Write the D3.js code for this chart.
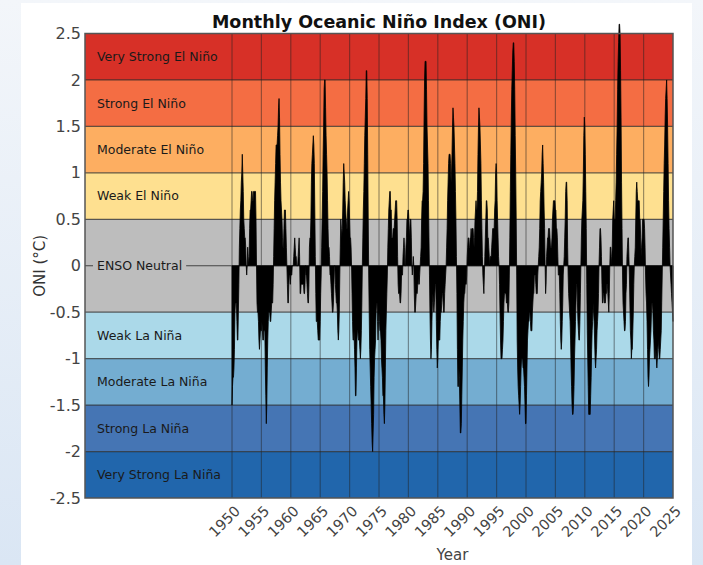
<!DOCTYPE html>
<html>
<head>
<meta charset="utf-8">
<script src="https://cdn.jsdelivr.net/npm/d3@7"></script>
<style>
    html, body { margin: 0; padding: 0; }
    body {
        width: 703px; height: 565px; overflow: hidden;
        background: linear-gradient(#f3f6fa, #dae6f4);
        font-family: "DejaVu Sans", sans-serif;
    }
</style>
</head>
<body>
<div id="chart"></div>
<script>
// ONI (deg C), one value per running 3-month season, starting DJF 1950
let startYear = 1950;
let oniValues = [
    -1.5, -1.3, -1.2, -1.2, -1.1, -0.9, -0.5, -0.4, -0.4, -0.4, -0.6, -0.8, // 1950
    -0.8, -0.5, -0.2, 0.2, 0.4, 0.6, 0.7, 0.9, 1.0, 1.2, 1.0, 0.8,          // 1951
    0.5, 0.4, 0.3, 0.3, 0.2, 0.0, -0.1, 0.0, 0.2, 0.1, 0.0, 0.1,            // 1952
    0.4, 0.6, 0.6, 0.7, 0.8, 0.8, 0.7, 0.7, 0.8, 0.8, 0.8, 0.8,             // 1953
    0.8, 0.5, 0.0, -0.4, -0.5, -0.5, -0.6, -0.8, -0.9, -0.8, -0.7, -0.7,    // 1954
    -0.7, -0.6, -0.7, -0.8, -0.8, -0.7, -0.7, -0.7, -1.1, -1.4, -1.7, -1.5, // 1955
    -1.1, -0.8, -0.6, -0.5, -0.5, -0.5, -0.6, -0.6, -0.5, -0.4, -0.4, -0.4, // 1956
    -0.2, 0.1, 0.4, 0.7, 0.9, 1.1, 1.3, 1.3, 1.3, 1.4, 1.5, 1.7,            // 1957
    1.8, 1.6, 1.2, 0.9, 0.7, 0.6, 0.5, 0.3, 0.2, 0.2, 0.4, 0.6,             // 1958
    0.6, 0.6, 0.4, 0.2, 0.0, -0.2, -0.4, -0.4, -0.2, -0.1, -0.1, -0.2,      // 1959
    -0.1, -0.1, -0.1, 0.0, 0.0, 0.0, 0.1, 0.2, 0.3, 0.2, 0.1, 0.1,          // 1960
    0.0, 0.0, 0.0, 0.1, 0.2, 0.3, 0.1, -0.3, -0.3, -0.2, -0.2, -0.2,        // 1961
    -0.2, -0.2, -0.2, -0.3, -0.3, -0.2, 0.0, -0.1, -0.1, -0.2, -0.3, -0.4,  // 1962
    -0.4, -0.2, 0.2, 0.3, 0.3, 0.5, 0.9, 1.1, 1.2, 1.3, 1.4, 1.3,           // 1963
    1.1, 0.6, 0.1, -0.3, -0.6, -0.6, -0.6, -0.7, -0.8, -0.8, -0.8, -0.8,    // 1964
    -0.6, -0.3, -0.1, 0.2, 0.5, 0.8, 1.2, 1.5, 1.9, 2.0, 2.0, 1.7,          // 1965
    1.4, 1.2, 1.0, 0.7, 0.4, 0.2, 0.2, 0.1, -0.1, -0.1, -0.2, -0.3,         // 1966
    -0.4, -0.5, -0.5, -0.4, -0.2, 0.0, 0.0, -0.2, -0.3, -0.4, -0.4, -0.5,   // 1967
    -0.7, -0.8, -0.7, -0.5, -0.1, 0.2, 0.5, 0.4, 0.3, 0.4, 0.6, 0.9,        // 1968
    1.1, 1.0, 0.9, 0.7, 0.6, 0.5, 0.4, 0.4, 0.6, 0.7, 0.8, 0.7,             // 1969
    0.5, 0.3, 0.3, 0.2, 0.0, -0.3, -0.6, -0.8, -0.8, -0.7, -0.9, -1.1,      // 1970
    -1.4, -1.4, -1.1, -0.8, -0.7, -0.7, -0.8, -0.8, -0.8, -0.9, -1.0, -0.9, // 1971
    -0.7, -0.4, 0.0, 0.3, 0.6, 0.8, 1.1, 1.4, 1.6, 1.8, 2.1, 2.1,           // 1972
    1.8, 1.2, 0.5, -0.1, -0.5, -0.9, -1.1, -1.3, -1.5, -1.7, -1.9, -2.0,    // 1973
    -1.8, -1.6, -1.2, -1.0, -0.9, -0.8, -0.5, -0.4, -0.4, -0.6, -0.8, -0.6, // 1974
    -0.5, -0.6, -0.7, -0.7, -0.8, -1.0, -1.1, -1.2, -1.4, -1.4, -1.6, -1.7, // 1975
    -1.5, -1.1, -0.7, -0.5, -0.3, -0.1, 0.2, 0.4, 0.6, 0.7, 0.8, 0.8,       // 1976
    0.6, 0.6, 0.3, 0.3, 0.3, 0.4, 0.4, 0.4, 0.5, 0.6, 0.7, 0.7,             // 1977
    0.7, 0.5, 0.1, -0.2, -0.3, -0.3, -0.3, -0.4, -0.4, -0.3, -0.1, -0.1,    // 1978
    -0.1, 0.1, 0.2, 0.3, 0.2, 0.0, 0.0, 0.2, 0.3, 0.5, 0.5, 0.6,            // 1979
    0.6, 0.5, 0.3, 0.4, 0.5, 0.5, 0.3, 0.0, -0.1, 0.0, 0.1, 0.0,            // 1980
    -0.3, -0.5, -0.5, -0.4, -0.3, -0.3, -0.3, -0.2, -0.2, -0.1, -0.2, -0.1, // 1981
    0.0, 0.1, 0.2, 0.5, 0.7, 0.7, 0.8, 1.1, 1.6, 2.0, 2.2, 2.2,             // 1982
    2.2, 1.9, 1.5, 1.3, 1.1, 0.7, 0.3, -0.1, -0.5, -0.8, -1.0, -0.9,        // 1983
    -0.6, -0.4, -0.3, -0.4, -0.5, -0.4, -0.3, -0.2, -0.2, -0.6, -0.9, -1.1, // 1984
    -1.0, -0.8, -0.8, -0.8, -0.8, -0.6, -0.5, -0.5, -0.4, -0.3, -0.3, -0.4, // 1985
    -0.5, -0.5, -0.3, -0.2, -0.1, 0.0, 0.2, 0.4, 0.7, 0.9, 1.1, 1.2,        // 1986
    1.2, 1.2, 1.1, 0.9, 1.0, 1.2, 1.5, 1.7, 1.6, 1.5, 1.3, 1.1,             // 1987
    0.8, 0.5, 0.1, -0.3, -0.9, -1.3, -1.3, -1.1, -1.2, -1.5, -1.8, -1.8,    // 1988
    -1.7, -1.4, -1.1, -0.8, -0.6, -0.4, -0.3, -0.3, -0.2, -0.2, -0.2, -0.1, // 1989
    0.1, 0.2, 0.3, 0.3, 0.2, 0.2, 0.3, 0.3, 0.4, 0.3, 0.4, 0.4,             // 1990
    0.4, 0.3, 0.2, 0.3, 0.5, 0.6, 0.7, 0.6, 0.6, 0.8, 1.2, 1.5,             // 1991
    1.7, 1.6, 1.5, 1.3, 1.1, 0.7, 0.4, 0.1, -0.1, -0.2, -0.3, -0.1,         // 1992
    0.1, 0.3, 0.5, 0.7, 0.7, 0.6, 0.3, 0.3, 0.2, 0.1, 0.0, 0.1,             // 1993
    0.1, 0.1, 0.2, 0.3, 0.4, 0.4, 0.4, 0.4, 0.6, 0.7, 1.0, 1.1,             // 1994
    1.0, 0.7, 0.5, 0.3, 0.1, 0.0, -0.2, -0.5, -0.8, -1.0, -1.0, -1.0,       // 1995
    -0.9, -0.8, -0.6, -0.4, -0.3, -0.3, -0.3, -0.3, -0.4, -0.4, -0.4, -0.5, // 1996
    -0.5, -0.4, -0.1, 0.3, 0.8, 1.2, 1.6, 1.9, 2.1, 2.3, 2.4, 2.4,          // 1997
    2.2, 1.9, 1.4, 1.0, 0.5, -0.1, -0.8, -1.1, -1.3, -1.4, -1.5, -1.6,      // 1998
    -1.5, -1.3, -1.1, -1.0, -1.0, -1.0, -1.1, -1.1, -1.2, -1.3, -1.5, -1.7, // 1999
    -1.7, -1.4, -1.1, -0.8, -0.7, -0.6, -0.6, -0.5, -0.5, -0.6, -0.7, -0.7, // 2000
    -0.7, -0.5, -0.4, -0.3, -0.3, -0.1, -0.1, -0.1, -0.2, -0.3, -0.3, -0.3, // 2001
    -0.1, 0.0, 0.1, 0.2, 0.4, 0.7, 0.8, 0.9, 1.0, 1.2, 1.3, 1.1,            // 2002
    0.9, 0.6, 0.4, 0.0, -0.3, -0.2, 0.1, 0.2, 0.3, 0.3, 0.4, 0.4,           // 2003
    0.4, 0.3, 0.2, 0.2, 0.2, 0.3, 0.5, 0.6, 0.7, 0.7, 0.7, 0.7,             // 2004
    0.6, 0.6, 0.4, 0.4, 0.3, 0.1, -0.1, -0.1, -0.1, -0.3, -0.6, -0.8,       // 2005
    -0.9, -0.8, -0.6, -0.4, -0.1, 0.0, 0.1, 0.3, 0.5, 0.8, 0.9, 0.9,        // 2006
    0.7, 0.2, -0.1, -0.3, -0.4, -0.5, -0.6, -0.8, -1.1, -1.3, -1.5, -1.6,   // 2007
    -1.6, -1.5, -1.3, -1.0, -0.8, -0.6, -0.4, -0.2, -0.2, -0.4, -0.6, -0.7, // 2008
    -0.8, -0.8, -0.6, -0.3, 0.0, 0.3, 0.5, 0.6, 0.7, 1.0, 1.4, 1.6,         // 2009
    1.5, 1.2, 0.8, 0.4, -0.2, -0.7, -1.0, -1.3, -1.6, -1.6, -1.6, -1.6,     // 2010
    -1.4, -1.2, -0.9, -0.7, -0.6, -0.4, -0.5, -0.6, -0.8, -1.0, -1.1, -1.0, // 2011
    -0.9, -0.7, -0.6, -0.5, -0.3, 0.0, 0.2, 0.4, 0.4, 0.3, 0.1, -0.2,       // 2012
    -0.4, -0.4, -0.3, -0.3, -0.4, -0.4, -0.4, -0.3, -0.3, -0.2, -0.2, -0.3, // 2013
    -0.4, -0.5, -0.3, 0.0, 0.2, 0.2, 0.0, 0.1, 0.2, 0.5, 0.6, 0.7,          // 2014
    0.5, 0.5, 0.5, 0.7, 0.9, 1.2, 1.5, 1.9, 2.2, 2.4, 2.6, 2.6,             // 2015
    2.5, 2.1, 1.6, 0.9, 0.4, -0.1, -0.4, -0.5, -0.6, -0.7, -0.7, -0.6,      // 2016
    -0.3, -0.2, 0.1, 0.2, 0.3, 0.3, 0.1, -0.1, -0.4, -0.7, -0.8, -1.0,      // 2017
    -0.9, -0.9, -0.7, -0.5, -0.2, 0.0, 0.1, 0.2, 0.5, 0.8, 0.9, 0.8,        // 2018
    0.7, 0.7, 0.7, 0.7, 0.5, 0.5, 0.3, 0.1, 0.2, 0.3, 0.5, 0.5,             // 2019
    0.5, 0.5, 0.4, 0.2, -0.1, -0.3, -0.4, -0.6, -0.9, -1.2, -1.3, -1.2,     // 2020
    -1.0, -0.9, -0.8, -0.7, -0.5, -0.4, -0.4, -0.5, -0.7, -0.8, -1.0, -1.0, // 2021
    -1.0, -0.9, -1.0, -1.1, -1.0, -0.9, -0.8, -0.9, -1.0, -1.0, -0.9, -0.8, // 2022
    -0.7, -0.4, -0.1, 0.2, 0.5, 0.8, 1.1, 1.3, 1.6, 1.8, 1.9, 2.0,          // 2023
    1.8, 1.5, 1.1, 0.7, 0.4, 0.2, 0.0, -0.1, -0.2, -0.3, -0.4, -0.5,        // 2024
    -0.6                                                                    // 2025
];

// intensity bands
let bandNames = [
    "Very Strong El Niño", "Strong El Niño", "Moderate El Niño", "Weak El Niño",
    "ENSO Neutral",
    "Weak La Niña", "Moderate La Niña", "Strong La Niña", "Very Strong La Niña"
];
let bandTop = [2.5, 2, 1.5, 1, 0.5, -0.5, -1, -1.5, -2];
let bandBottom = [2, 1.5, 1, 0.5, -0.5, -1, -1.5, -2, -2.5];
let bandColors = [
    "#d73027", "#f46d43", "#fdae61", "#fee090", "#bdbdbd",
    "#abd9e9", "#74add1", "#4575b4", "#2166ac"
];

let yTicks = [2.5, 2, 1.5, 1, 0.5, 0, -0.5, -1, -1.5, -2, -2.5];
let xTicks = [1950, 1955, 1960, 1965, 1970, 1975, 1980, 1985, 1990, 1995,
              2000, 2005, 2010, 2015, 2020, 2025];

// layout
let width = 703, height = 565;
let margin = {top: 33.5, left: 85, right: 30, bottom: 67};
let innerwidth = width - margin.left - margin.right;
let innerheight = height - margin.top - margin.bottom;

let svg = d3.select('#chart').append('svg')
    .attr('width', width)
    .attr('height', height);

// white panel behind everything
svg.append('rect')
    .attr('x', 21).attr('y', 3)
    .attr('width', 671).attr('height', height - 3)
    .attr('fill', '#ffffff');

let x = d3.scaleLinear().domain([1925, 2025]).range([0, innerwidth]);
let y = d3.scaleLinear().domain([-2.5, 2.5]).range([innerheight, 0]);

let g = svg.append('g')
    .attr('transform', `translate(${margin.left},${margin.top})`);

// coloured bands
g.selectAll('.band')
    .data(bandNames)
    .join('rect')
    .attr('class', 'band')
    .attr('x', 0)
    .attr('width', innerwidth)
    .attr('y', (d, i) => y(bandTop[i]))
    .attr('height', (d, i) => y(bandBottom[i]) - y(bandTop[i]))
    .attr('fill', (d, i) => bandColors[i]);

// vertical grid at tick years
g.selectAll('.vgrid')
    .data(xTicks.slice(0, -1))
    .join('line')
    .attr('x1', d => x(d)).attr('x2', d => x(d))
    .attr('y1', 0).attr('y2', innerheight)
    .attr('stroke', '#222')
    .attr('stroke-opacity', 0.45)
    .attr('stroke-width', 1.2);

// band boundaries
g.selectAll('.hgrid')
    .data(bandTop.slice(1))
    .join('line')
    .attr('x1', 0).attr('x2', innerwidth)
    .attr('y1', d => y(d)).attr('y2', d => y(d))
    .attr('stroke', '#222')
    .attr('stroke-opacity', 0.7)
    .attr('stroke-width', 1.2);

// zero line
g.append('line')
    .attr('x1', 0).attr('x2', innerwidth)
    .attr('y1', y(0)).attr('y2', y(0))
    .attr('stroke', '#444')
    .attr('stroke-width', 1.2);

// the index itself, filled from zero
let series = oniValues.map((v, i) => ({t: startYear + i / 12, v: v}));
let area = d3.area()
    .x(d => x(d.t))
    .y0(y(0))
    .y1(d => y(d.v));

g.append('path')
    .datum(series)
    .attr('d', area)
    .attr('fill', '#000')
    .attr('stroke', '#000')
    .attr('stroke-width', 0.8);

// band labels
let labels = g.selectAll('.blabel')
    .data(bandNames)
    .join('g')
    .attr('transform', (d, i) => `translate(12,${y((bandTop[i] + bandBottom[i]) / 2)})`);

labels.each(function(d, i) {
    let lg = d3.select(this);
    let t = lg.append('text')
        .attr('dy', '0.35em')
        .attr('font-size', 12.5)
        .attr('fill', '#1a1a1a')
        .text(d);
    if (d == 'ENSO Neutral') {
        let bb = t.node().getBBox();
        lg.insert('rect', 'text')
            .attr('x', bb.x - 4).attr('y', bb.y)
            .attr('width', bb.width + 8).attr('height', bb.height)
            .attr('fill', bandColors[i]);
    }
});

// frame
g.append('rect')
    .attr('width', innerwidth)
    .attr('height', innerheight)
    .attr('fill', 'none')
    .attr('stroke', '#555')
    .attr('stroke-width', 1.5);

// y tick labels
g.selectAll('.ytick')
    .data(yTicks)
    .join('text')
    .attr('x', -4)
    .attr('y', d => y(d))
    .attr('dy', '0.35em')
    .attr('text-anchor', 'end')
    .attr('font-size', 16)
    .attr('fill', '#444')
    .text(d => d);

// x tick labels, rotated
g.selectAll('.xtick')
    .data(xTicks)
    .join('text')
    .attr('text-anchor', 'end')
    .attr('font-size', 14.5)
    .attr('fill', '#444')
    .attr('transform', d => `translate(${x(d) + 9},${innerheight + 14}) rotate(-45)`)
    .text(d => d);

// title + axis titles
svg.append('text')
    .attr('x', margin.left + innerwidth / 2)
    .attr('y', 28)
    .attr('text-anchor', 'middle')
    .attr('font-size', 17.5)
    .attr('font-weight', 'bold')
    .attr('fill', '#111')
    .text('Monthly Oceanic Niño Index (ONI)');

svg.append('text')
    .attr('transform', `translate(45,${margin.top + y(0)}) rotate(-90)`)
    .attr('text-anchor', 'middle')
    .attr('font-size', 15)
    .attr('fill', '#333')
    .text('ONI (°C)');

svg.append('text')
    .attr('x', margin.left + x(1987.5))
    .attr('y', 560)
    .attr('text-anchor', 'middle')
    .attr('font-size', 15)
    .attr('fill', '#444')
    .text('Year');
</script>
</body>
</html>
